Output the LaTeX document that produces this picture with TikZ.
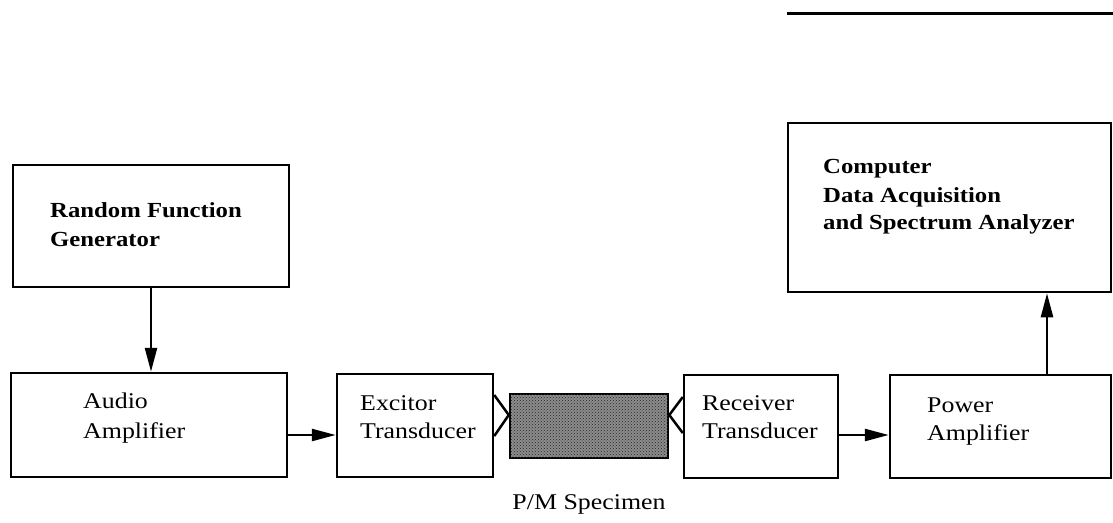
\documentclass[tikz,border=0pt]{standalone}
\usepackage{fontspec}
\setmainfont[FakeStretch=1.15]{Liberation Serif}
\usetikzlibrary{arrows.meta,patterns}
\begin{document}
\begin{tikzpicture}[x=1pt,y=-1pt,
  box/.style={draw,line width=2.5pt,inner sep=0pt},
  lbl/.style={anchor=base west,inner sep=0pt,font=\fontsize{22.5}{29}\selectfont},
  blbl/.style={anchor=base west,inner sep=0pt,font=\fontsize{21.5}{28}\selectfont\bfseries},
  arr/.style={line width=2.5pt,-{Triangle[length=24pt,width=12pt]}},
  wedge/.style={line width=2.5pt}]
\useasboundingbox (0,0) rectangle (1113,522);

% boxes
\node[box,minimum width=276pt,minimum height=122pt] (rfg) at (151,226) {};
\node[box,minimum width=323pt,minimum height=169pt] (comp) at (949.5,207.5) {};
\node[box,minimum width=276pt,minimum height=104pt] (audio) at (149,425) {};
\node[box,minimum width=156pt,minimum height=103pt] (exc) at (415,425.5) {};
\node[box,minimum width=158pt,minimum height=64pt,fill=black!45,
      postaction={pattern=crosshatch dots,pattern color=black!85}] (spec) at (589,426) {};
\node[box,minimum width=154pt,minimum height=103pt] (rec) at (761,426.5) {};
\node[box,minimum width=221pt,minimum height=103pt] (pow) at (1000.5,426.5) {};

% top rule
\coordinate (tl1) at (787,13);
\coordinate (tl2) at (1113,13);
\draw[line width=3pt] (tl1) -- (tl2);

% labels
\node[blbl] (rfg1) at (50,217) {Random Function};
\node[blbl] (rfg2) at (50,246) {Generator};
\node[blbl] (comp1) at (823,173) {Computer};
\node[blbl] (comp2) at (823,202) {Data Acquisition};
\node[blbl] (comp3) at (823,229) {and Spectrum Analyzer};
\node[lbl] (aud1) at (83,408) {Audio};
\node[lbl] (aud2) at (83,438) {Amplifier};
\node[lbl] (exc1) at (360,410) {Excitor};
\node[lbl] (exc2) at (360,438) {Transducer};
\node[lbl] (rec1) at (702,410) {Receiver};
\node[lbl] (rec2) at (702,438) {Transducer};
\node[lbl] (pow1) at (927,412) {Power};
\node[lbl] (pow2) at (927,440) {Amplifier};
\node[lbl,anchor=base] (speclbl) at (589,509) {P/M Specimen};

% connectors
\draw[arr] (rfg.south) -- (rfg.south |- audio.north);
\draw[arr] ([yshift=-10pt]audio.east) -- ([yshift=-10pt]audio.east -| exc.west);
\draw[arr] ([yshift=-8.5pt]rec.east) -- ([yshift=-8.5pt]rec.east -| pow.west);
\draw[arr] ([xshift=46.5pt]pow.north) -- ([xshift=46.5pt]pow.north |- comp.south);

% transducer contacts
\draw[wedge] ([yshift=30.5pt]exc.east) -- ([yshift=11pt]spec.west) -- ([yshift=-10.5pt]exc.east);
\draw[wedge] ([yshift=29.5pt]rec.west) -- ([yshift=11pt]spec.east) -- ([yshift=-6.5pt]rec.west);
\end{tikzpicture}
\end{document}
